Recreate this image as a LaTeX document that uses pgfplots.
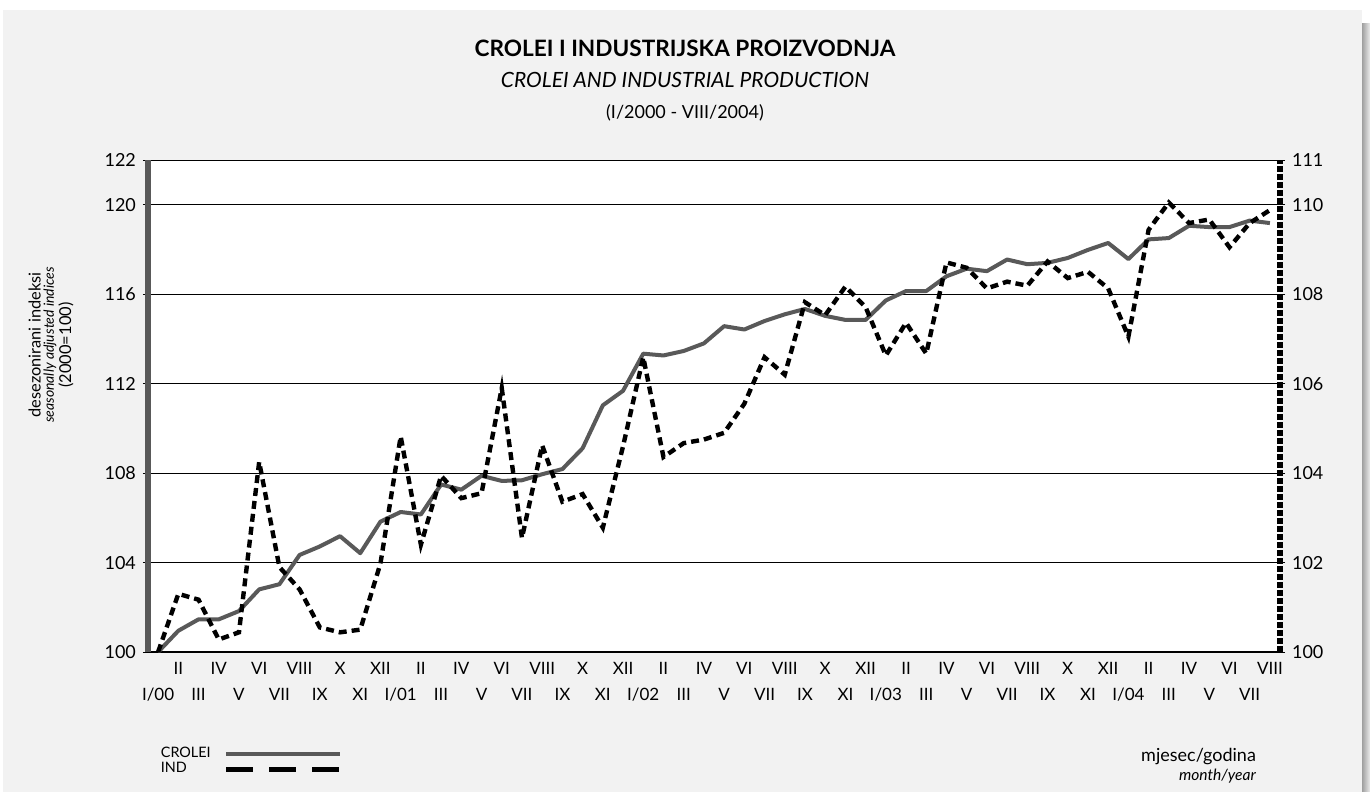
\documentclass[border=0pt]{standalone}
\usepackage{fontspec}
\setmainfont{Lato}
\usepackage{pgfplots}
\usepackage{pgfplotstable}
\pgfplotsset{compat=1.18}
\definecolor{panel}{HTML}{F2F2F2}
\definecolor{crolei}{HTML}{595959}

\pgfplotstableread{
i v
0 100.00
1 100.95
2 101.46
3 101.46
4 101.83
5 102.80
6 103.03
7 104.34
8 104.72
9 105.18
10 104.42
11 105.83
12 106.26
13 106.15
14 107.49
15 107.26
16 107.88
17 107.65
18 107.68
19 107.95
20 108.18
21 109.11
22 111.03
23 111.68
24 113.34
25 113.26
26 113.46
27 113.80
28 114.57
29 114.42
30 114.80
31 115.10
32 115.34
33 115.03
34 114.85
35 114.85
36 115.72
37 116.14
38 116.14
39 116.80
40 117.14
41 117.03
42 117.55
43 117.34
44 117.40
45 117.62
46 117.98
47 118.29
48 117.57
49 118.45
50 118.51
51 119.06
52 119.00
53 119.00
54 119.29
55 119.18
}\croleidata

\pgfplotstableread{
i v
0 100.00
1 101.30
2 101.17
3 100.28
4 100.44
5 104.25
6 101.90
7 101.40
8 100.55
9 100.44
10 100.50
11 101.98
12 104.82
13 102.40
14 103.94
15 103.44
16 103.55
17 105.90
18 102.55
19 104.62
20 103.36
21 103.53
22 102.78
23 104.60
24 106.59
25 104.36
26 104.67
27 104.75
28 104.90
29 105.55
30 106.59
31 106.20
32 107.82
33 107.53
34 108.17
35 107.71
36 106.63
37 107.36
38 106.67
39 108.71
40 108.59
41 108.13
42 108.28
43 108.19
44 108.73
45 108.36
46 108.50
47 108.13
48 107.05
49 109.44
50 110.05
51 109.59
52 109.67
53 109.05
54 109.59
55 109.88
}\inddata

\begin{document}
\begin{tikzpicture}
\path[use as bounding box] (0pt,0pt) rectangle (685pt,-396pt);
\fill[white] (0pt,0pt) rectangle (685pt,-396pt);
\fill[panel] (1.5pt,-5pt) rectangle (681pt,-396pt);
\shade[left color=gray!75, right color=gray!15] (681pt,-12pt) rectangle (685pt,-396pt);

\node[font=\fontsize{11.3}{13}\selectfont\bfseries] at (342.5pt,-24pt) {CROLEI I INDUSTRIJSKA PROIZVODNJA};
\node[font=\fontsize{10.5}{12}\selectfont\itshape] at (342.5pt,-40pt) {CROLEI AND INDUSTRIAL PRODUCTION};
\node[font=\fontsize{9}{10}\selectfont] at (342.5pt,-56.5pt) {(I/2000 - VIII/2004)};

\node[rotate=90, align=center, font=\fontsize{8.2}{6.6}\selectfont] at (25.5pt,-172.5pt)
  {desezonirani indeksi\\{\fontsize{7}{6.6}\selectfont\itshape seasonally adjusted indices}\\(2000=100)};

\node[anchor=east, font=\fontsize{9}{10}\selectfont] at (631.5pt,-378.5pt) {mjesec/godina};
\node[anchor=east, font=\fontsize{7.8}{9}\selectfont\itshape] at (631.5pt,-388pt) {month/year};

\begin{axis}[
  at={(74pt,-326pt)}, anchor=south west,
  scale only axis, width=566pt, height=246pt,
  xmin=-0.5, xmax=55.5, ymin=100, ymax=122,
  axis background/.style={fill=white},
  axis x line*=bottom, axis y line*=left,
  x axis line style={black, line width=0.7pt, -},
  y axis line style={crolei, line width=2.6pt, -},
  xtick={1,3,...,55},
  xticklabels={II,IV,VI,VIII,X,XII,II,IV,VI,VIII,X,XII,II,IV,VI,VIII,X,XII,II,IV,VI,VIII,X,XII,II,IV,VI,VIII},
  extra x ticks={0,2,...,54},
  extra x tick labels={I/00,III,V,VII,IX,XI,I/01,III,V,VII,IX,XI,I/02,III,V,VII,IX,XI,I/03,III,V,VII,IX,XI,I/04,III,V,VII},
  extra x tick style={major tick length=0pt, grid=none, xticklabel style={yshift=-15.5pt}},
  xtick style={draw=none},
  xticklabel style={yshift=1pt, font=\fontsize{8.5}{10}\selectfont},
  ytick={100,104,108,112,116,120,122},
  ymajorgrids, grid style={black, line width=0.5pt},
  tick align=outside, major tick length=2.5pt,
  ytick style={black, line width=0.5pt},
  yticklabel style={font=\fontsize{9}{10}\selectfont},
  /pgf/number format/assume math mode=true,
  clip=true,
]
\addplot[crolei, line width=2pt, line join=round] table[x=i, y=v] {\croleidata};
\end{axis}

\begin{axis}[
  at={(74pt,-326pt)}, anchor=south west,
  scale only axis, width=566pt, height=246pt,
  xmin=-0.5, xmax=55.5, ymin=100, ymax=111,
  axis x line=none, axis y line*=right,
  y axis line style={black, line width=2.6pt, dash pattern=on 3pt off 1pt, -},
  ytick={100,102,104,106,108,110,111},
  tick align=outside, major tick length=2.5pt,
  ytick style={black, line width=0.5pt},
  yticklabel style={font=\fontsize{9}{10}\selectfont},
  /pgf/number format/assume math mode=true,
  legend plot pos=right,
  legend image code/.code={\draw[#1] (0pt,0pt) -- (57pt,0pt);},
  legend style={at={(axis description cs:0.0075,-0.2225)}, anchor=west,
    draw=none, fill=none, font=\fontsize{7.2}{7.5}\selectfont,
    inner sep=0pt, row sep=-3pt, column sep=4.5pt,
    cells={anchor=west}},
]
\addlegendimage{crolei, line width=2pt}
\addlegendentry{CROLEI}
\addlegendimage{black, line width=2.5pt, dash pattern=on 13.5pt off 8pt}
\addlegendentry{IND}
\addplot[black, line width=2.2pt, dash pattern=on 4pt off 2.5pt, line join=miter, forget plot] table[x=i, y=v] {\inddata};
\end{axis}
\end{tikzpicture}
\end{document}
